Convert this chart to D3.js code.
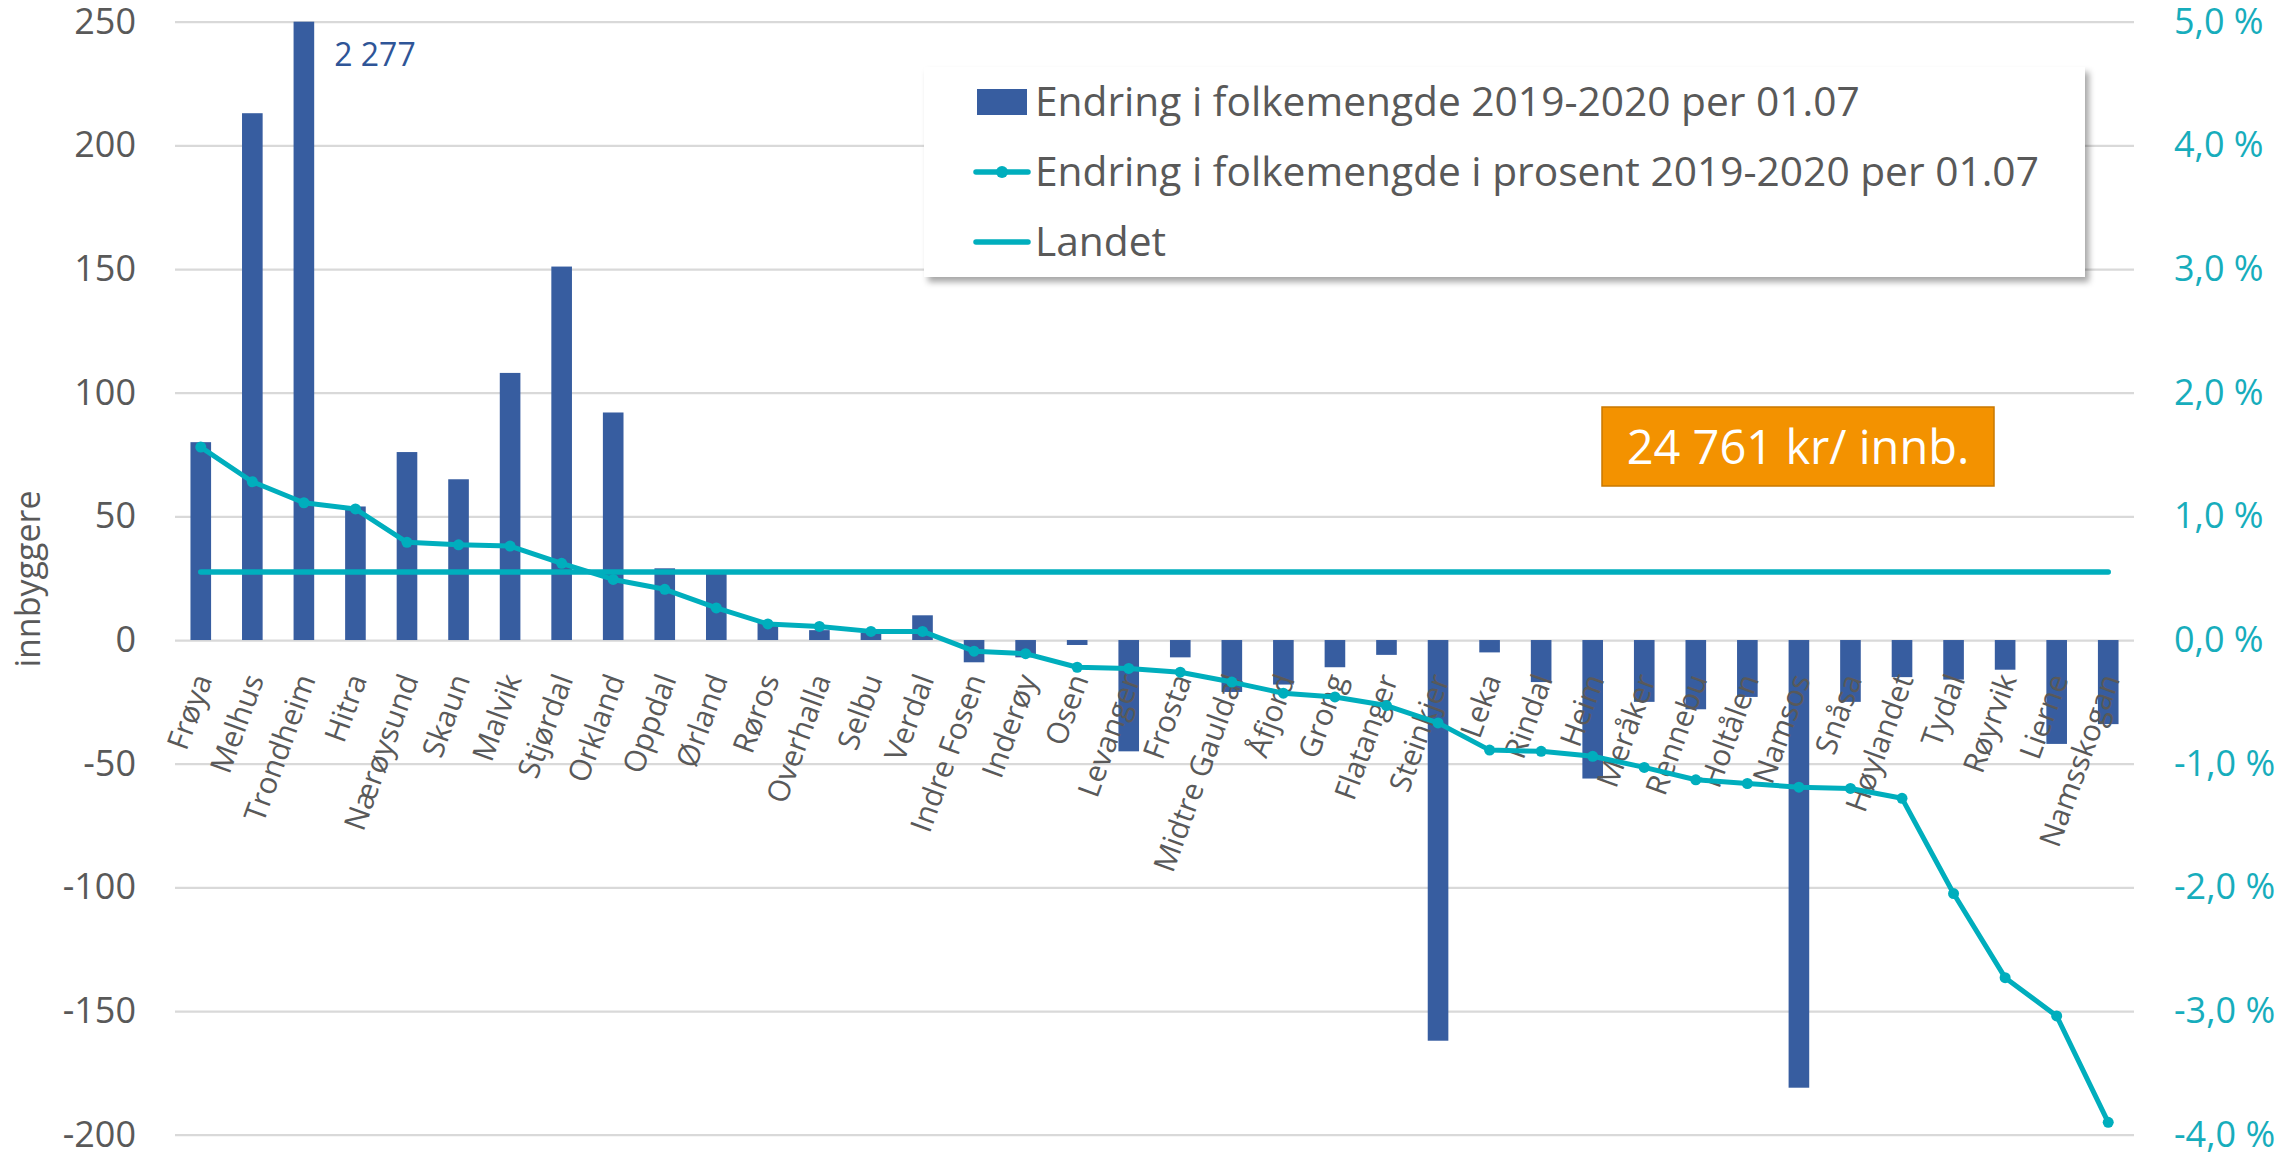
<!DOCTYPE html>
<html><head><meta charset="utf-8">
<script src="https://cdn.jsdelivr.net/npm/d3@7"></script>
<style>html,body{margin:0;padding:0;background:#fff;} svg{display:block;}</style>
</head><body><div id="chart"></div>
<script>
const categories = ["Frøya","Melhus","Trondheim","Hitra","Nærøysund","Skaun","Malvik","Stjørdal","Orkland","Oppdal","Ørland","Røros","Overhalla","Selbu","Verdal","Indre Fosen","Inderøy","Osen","Levanger","Frosta","Midtre Gauldal","Åfjord","Grong","Flatanger","Steinkjer","Leka","Rindal","Heim","Meråker","Rennebu","Holtålen","Namsos","Snåsa","Høylandet","Tydal","Røyrvik","Lierne","Namsskogan"];
const populationChange = [80,213,2277,54,76,65,108,151,92,29,27,7,4,3,10,-9,-7,-2,-45,-7,-21,-18,-11,-6,-162,-5,-17,-56,-25,-28,-23,-181,-25,-15,-16,-12,-42,-34];
const percentChange = [1.56,1.28,1.11,1.06,0.79,0.77,0.76,0.62,0.49,0.41,0.26,0.13,0.11,0.07,0.07,-0.09,-0.11,-0.22,-0.23,-0.26,-0.34,-0.43,-0.46,-0.53,-0.67,-0.89,-0.90,-0.94,-1.03,-1.13,-1.16,-1.19,-1.20,-1.28,-2.05,-2.73,-3.04,-3.90];
const nationalPercent = 0.55;
const leftTickValues = [250,200,150,100,50,0,-50,-100,-150,-200];
const rightTickValues = [5,4,3,2,1,0,-1,-2,-3,-4];
const legendLabels = ["Endring i folkemengde 2019-2020 per 01.07","Endring i folkemengde i prosent 2019-2020 per 01.07","Landet"];
const annotationText = "24 761 kr/ innb.";
const yAxisTitle = "innbyggere";
const labelledCategory = "Trondheim";

const W = 2292, H = 1156;
const FONT = "'Open Sans', 'DejaVu Sans', sans-serif";
const BAR = "#375DA0", TEAL = "#00AEBD", GRID = "#D9D9D9", GREY = "#595959";
const plot = {left:175, right:2134, top:21.7, bottom:1134.7};

const nb = d3.formatLocale({decimal:",", thousands:" ", grouping:[3], currency:["","kr"], minus:"-"});

const svg = d3.select("#chart").append("svg").attr("width", W).attr("height", H)
  .style("font-family", FONT);
svg.append("rect").attr("width", W).attr("height", H).attr("fill", "#fff");

const defs = svg.append("defs");
const f = defs.append("filter").attr("id","shadow").attr("x","-5%").attr("y","-10%").attr("width","115%").attr("height","130%");
f.append("feDropShadow").attr("dx",4).attr("dy",5).attr("stdDeviation",3).attr("flood-color","#000").attr("flood-opacity",0.35);

const x = d3.scaleBand().domain(categories).range([plot.left, plot.right]).paddingInner(0.6).paddingOuter(0.3);
const y = d3.scaleLinear().domain([-200,250]).range([plot.bottom, plot.top]).clamp(true);
const y2 = d3.scaleLinear().domain([-4,5]).range([plot.bottom, plot.top]);
const cx = c => x(c) + x.bandwidth()/2;

// left axis with gridlines
const gL = svg.append("g").attr("transform", `translate(${plot.left},0)`)
  .call(d3.axisLeft(y).tickValues(leftTickValues).tickSize(-(plot.right-plot.left)).tickPadding(39).tickFormat(nb.format("d")));
gL.select(".domain").remove();
gL.selectAll(".tick line").attr("stroke", GRID).attr("stroke-width", 2.2);
gL.selectAll(".tick text").attr("fill", GREY).attr("font-size", 36).attr("font-family", FONT);

// right axis
const gR = svg.append("g").attr("transform", `translate(${plot.right},0)`)
  .call(d3.axisRight(y2).tickValues(rightTickValues).tickSize(0).tickPadding(40).tickFormat(d => nb.format(".1f")(d) + " %"));
gR.select(".domain").remove();
gR.selectAll(".tick text").attr("fill", "#17ADBC").attr("font-size", 36).attr("font-family", FONT);

// y axis title
svg.append("text").attr("transform", `translate(40,579) rotate(-90)`)
  .attr("text-anchor","middle").attr("fill", GREY).attr("font-size", 34).text(yAxisTitle);

// bars
svg.append("g").selectAll("rect").data(categories).join("rect")
  .attr("x", c => x(c)).attr("width", x.bandwidth())
  .attr("y", (c,i) => y(Math.max(0, populationChange[i])))
  .attr("height", (c,i) => Math.abs(y(populationChange[i]) - y(0)))
  .attr("fill", BAR);

// data label for clipped bar
const li = categories.indexOf(labelledCategory);
svg.append("text").attr("x", x(labelledCategory) + x.bandwidth() + 20).attr("y", y(250) + 44)
  .attr("fill", "#2F5597").attr("font-size", 32).text(nb.format(",")(populationChange[li]));

// category labels
svg.append("g").selectAll("text").data(categories).join("text")
  .attr("transform", c => `translate(${cx(c) + 12},${y(0) + 39}) rotate(-70)`)
  .attr("text-anchor", "end").attr("fill", GREY).attr("font-size", 30)
  .text(c => c);

// Landet line
const line = d3.line().x(d => cx(d.c)).y(d => y2(d.v));
svg.append("path").datum([{c:categories[0], v:nationalPercent},{c:categories[categories.length-1], v:nationalPercent}])
  .attr("d", line).attr("fill","none").attr("stroke", TEAL).attr("stroke-width", 5.5).attr("stroke-linecap","round");

// percent line
const pts = categories.map((c,i) => ({c, v: percentChange[i]}));
svg.append("path").datum(pts).attr("d", line).attr("fill","none").attr("stroke", TEAL).attr("stroke-width", 5).attr("stroke-linejoin","round");
svg.append("g").selectAll("circle").data(pts).join("circle")
  .attr("cx", d => cx(d.c)).attr("cy", d => y2(d.v)).attr("r", 5.5).attr("fill", TEAL);

// legend
const lg = svg.append("g").attr("transform","translate(924,67)");
lg.append("rect").attr("width",1161).attr("height",210).attr("fill","#fff").attr("filter","url(#shadow)");
const rows = [49, 119, 189];
lg.append("rect").attr("x",53).attr("y",rows[0]-27).attr("width",50).attr("height",26).attr("fill",BAR);
lg.append("line").attr("x1",52).attr("x2",104).attr("y1",rows[1]-14).attr("y2",rows[1]-14).attr("stroke",TEAL).attr("stroke-width",5.5).attr("stroke-linecap","round");
lg.append("circle").attr("cx",78).attr("cy",rows[1]-14).attr("r",6).attr("fill",TEAL);
lg.append("line").attr("x1",52).attr("x2",104).attr("y1",rows[2]-14).attr("y2",rows[2]-14).attr("stroke",TEAL).attr("stroke-width",5.5).attr("stroke-linecap","round");
lg.selectAll("text.lt").data(legendLabels).join("text").attr("class","lt")
  .attr("x",111).attr("y",(d,i)=>rows[i]).attr("fill",GREY).attr("font-size",40.7).text(d=>d);

// orange annotation
const ag = svg.append("g").attr("transform","translate(1602,407)");
ag.append("rect").attr("width",392).attr("height",79).attr("fill","#F39200").attr("stroke","#C97800").attr("stroke-width",1.5);
ag.append("text").attr("x",196).attr("y",57).attr("text-anchor","middle").attr("fill","#fff").attr("font-size",47).text(annotationText);
</script>
</body></html>
